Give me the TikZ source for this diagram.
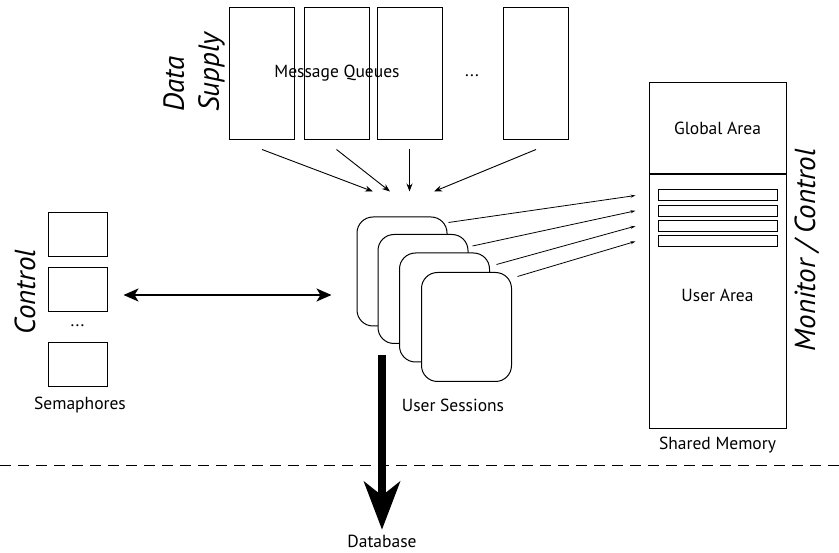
\documentclass[tikz,border=0pt]{standalone}
\usepackage{fontspec}
\setmainfont{PT Sans}
\usetikzlibrary{arrows.meta,calc}

\begin{document}
\begin{tikzpicture}[x=1pt,y=-1pt,
  box/.style={draw,line width=1pt,inner sep=0pt},
  card/.style={box,rounded corners=16pt,fill=white,minimum width=90pt,minimum height=109pt},
  lbl/.style={font=\fontsize{17.5}{21}\selectfont},
  big/.style={font=\fontsize{29}{35}\selectfont\itshape,rotate=90,inner sep=0pt},
  feed/.style={-{Stealth[length=8pt,width=6pt]},line width=0.9pt},
  write/.style={-{Stealth[length=5pt,width=3pt]},line width=0.8pt},
  both/.style={{Stealth[length=15pt,width=13pt,inset=4pt]}-{Stealth[length=15pt,width=13pt,inset=4pt]},line width=2pt},
  sink/.style={-{Stealth[length=48pt,width=36pt,inset=14pt]},line width=7.5pt}]
  \useasboundingbox (0,0) rectangle (839,553);

  % message queues
  \foreach \i/\x in {1/262,2/336.5,3/409.5,4/536}
    \node[box,minimum width=65pt,minimum height=132pt] (q\i) at (\x,74) {};
  \node[lbl] (mq) at (337,73) {Message Queues};
  \node[lbl] (mqdots) at (472,76) {...};
  \node[big,align=left,anchor=west] (supply) at (194,112) {Data\\Supply};

  % user sessions
  \foreach \i/\x/\y in {1/402/271.5,2/423/289,3/444.5/307.5,4/466.5/327}
    \node[card] (s\i) at (\x,\y) {};
  \node[lbl] (us) at (453,405) {User Sessions};

  % shared memory
  \node[box,lbl,minimum width=137pt,minimum height=91pt] (glob) at (717.5,128.5) {Global Area};
  \node[box,minimum width=137pt,minimum height=254pt,anchor=north] (user) at (glob.south) {};
  \node[lbl] (ua) at (717.5,295) {User Area};
  \foreach \i in {1,...,4}
    \node[box,minimum width=119pt,minimum height=11pt] (slot\i) at (717.5,180.2+15.3*\i) {};
  \node[lbl] (shm) at (717.5,445) {Shared Memory};
  \node[big] (mon) at (807,250) {Monitor / Control};

  % semaphores
  \foreach \i/\y in {1/234.5,2/290,3/364.5}
    \node[box,minimum width=59pt,minimum height=44pt] (sem\i) at (77.5,\y) {};
  \node[lbl] (semdots) at (77.5,326) {...};
  \node[lbl] (sema) at (80,405) {Semaphores};
  \node[big] (ctl) at (25,292) {Control};

  \node[lbl] (db) at (382,541.5) {Database};

  \foreach \q/\dx in {1/-29,2/-12,3/7.5,4/32}
    \draw[feed] ($(q\q.south)+(0,9)$) -- ($(s1.north)+(\dx,-25)$);
  \foreach \i/\dx/\dy in {1/1/6,2/4/12,3/6.5/12,4/5.5/4.5}
    \draw[write] ($(s\i.north east)+(\dx,\dy)$) -- ($(slot\i.west)+(-22,0)$);
  \draw[both] ($(sem2.east)+(16,5)$) -- ($(sem2.east -| s1.west)+(-25,5)$);
  \draw[sink] ($(s1.south -| db)+(0,29)$) -- ($(db.north)+(0,-2)$);

  \draw[line width=1pt,dash pattern=on 11pt off 7pt] (0,466) -- (839,466);
\end{tikzpicture}
\end{document}
